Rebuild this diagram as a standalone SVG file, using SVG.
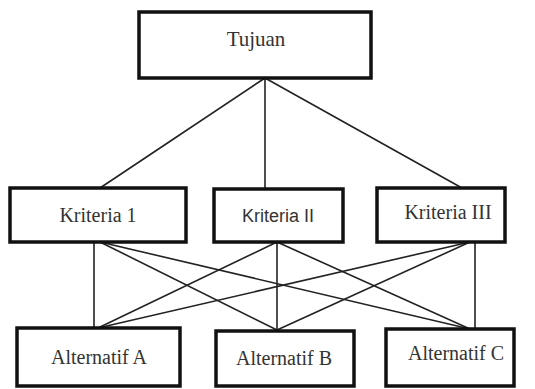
<svg xmlns="http://www.w3.org/2000/svg" width="535" height="389" viewBox="0 0 535 389">
<style>
.box{fill:#fff;stroke:#111;stroke-width:3.5}
.t{font-family:"Liberation Serif",serif;font-size:20px;fill:#333;text-anchor:middle}
.s{font-family:"Liberation Sans",sans-serif;font-size:18px;fill:#333;text-anchor:middle}
.c{stroke:#222;stroke-width:1.6;fill:none}
</style>
<rect width="535" height="389" fill="#fff"/>
<g id="connectors">
<line class="c" x1="265" y1="78" x2="100" y2="188"/>
<line class="c" x1="265" y1="78" x2="265" y2="188"/>
<line class="c" x1="265" y1="78" x2="462" y2="188"/>
<line class="c" x1="94" y1="242" x2="94" y2="328"/>
<line class="c" x1="100" y1="242" x2="277" y2="330"/>
<line class="c" x1="100" y1="242" x2="470" y2="329"/>
<line class="c" x1="277" y1="242" x2="277" y2="330"/>
<line class="c" x1="277" y1="242" x2="98" y2="328"/>
<line class="c" x1="277" y1="242" x2="470" y2="329"/>
<line class="c" x1="475" y1="242" x2="475" y2="329"/>
<line class="c" x1="470" y1="242" x2="98" y2="328"/>
<line class="c" x1="470" y1="242" x2="277" y2="330"/>
</g>
<g id="tujuan"><rect class="box" x="139" y="12" width="232" height="66"/><text class="t" x="256" y="46" style="font-size:21px">Tujuan</text></g>
<g id="kriteria1"><rect class="box" x="10" y="188" width="176" height="54"/><text class="t" x="98" y="222">Kriteria 1</text></g>
<g id="kriteria2"><rect class="box" x="214" y="189" width="129" height="53"/><text class="s" x="278" y="222">Kriteria II</text></g>
<g id="kriteria3"><rect class="box" x="377" y="188" width="128" height="54"/><text class="t" x="448" y="219">Kriteria III</text></g>
<g id="alternatifA"><rect class="box" x="17" y="328" width="163" height="58"/><text class="t" x="99" y="364">Alternatif A</text></g>
<g id="alternatifB"><rect class="box" x="216" y="331" width="138" height="55"/><text class="t" x="284" y="365">Alternatif B</text></g>
<g id="alternatifC"><rect class="box" x="386" y="329" width="128" height="57"/><text class="t" x="456" y="360">Alternatif C</text></g>
</svg>
